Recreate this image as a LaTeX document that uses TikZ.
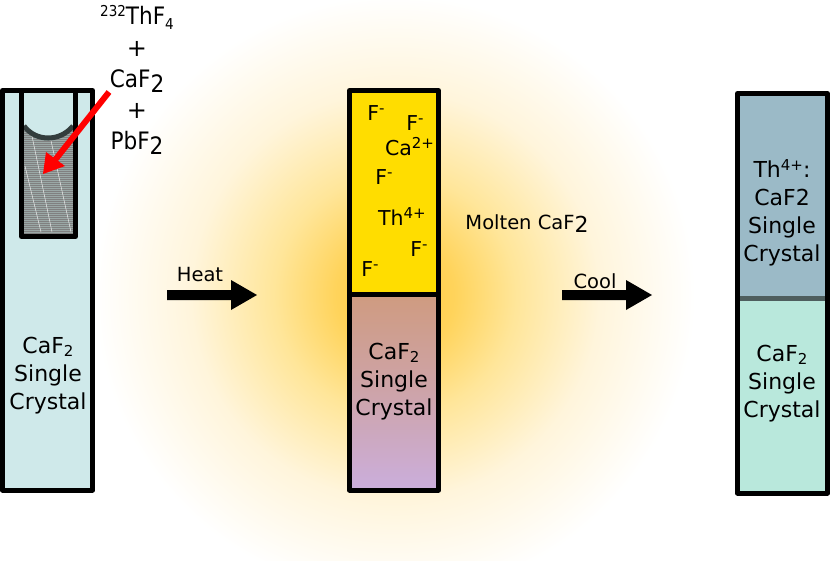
\documentclass[tikz,border=0pt]{standalone}
\usepackage{fontspec}
\setmainfont{DejaVu Sans}
\definecolor{tubeA}{HTML}{CFE9EA}
\definecolor{moltenY}{HTML}{FFDD00}
\definecolor{gradTop}{HTML}{CF9B80}
\definecolor{gradBot}{HTML}{CBAEDC}
\definecolor{dopedC}{HTML}{9BBAC7}
\definecolor{pureC}{HTML}{B9E8DC}
\definecolor{sepC}{HTML}{4E5E5E}
\definecolor{powderC}{HTML}{9AA8A6}
\definecolor{menC}{HTML}{333D3D}
\definecolor{glowA}{rgb}{1,0.78,0.22}
\definecolor{glowB}{rgb}{1,0.83,0.36}
\definecolor{glowC}{rgb}{1,0.90,0.60}
\definecolor{glowD}{rgb}{1,0.96,0.86}
\definecolor{glowE}{rgb}{1,1,1}
\pgfdeclareradialshading{glow}{\pgfpoint{0bp}{0bp}}{
 color(0bp)=(glowA);
 color(5bp)=(glowB);
 color(10bp)=(glowC);
 color(17bp)=(glowD);
 color(25bp)=(glowE);
 color(50bp)=(glowE)}
\tikzset{
 x=1pt,y=-1pt,
 wall/.style={draw=black,line width=5pt,line join=round},
 txt/.style={font=\fontsize{22}{28}\selectfont,align=center,inner sep=0pt},
 small/.style={font=\fontsize{20.5}{24}\selectfont,inner sep=0pt},
 lab/.style={font=\fontsize{19.5}{22}\selectfont,inner sep=0pt},
 tall/.style={font=\fontsize{24}{28}\selectfont,inner sep=0pt},
 bigarrow/.style={fill=black,draw=none},
}
\newcommand{\subtwo}{\raisebox{-3pt}{\fontsize{15}{15}\selectfont 2}}
\newcommand{\supm}{\raisebox{7pt}{\fontsize{15}{15}\selectfont -}}
\newcommand{\supx}[1]{\raisebox{7pt}{\fontsize{15}{15}\selectfont #1}}
\newcommand{\narrow}[1]{\scalebox{0.9}[1]{#1}}
\begin{document}
\begin{tikzpicture}
\useasboundingbox (0,0) rectangle (830,560);
% glow
\path[shading=glow] (395,295) circle[radius=300];
% left tube
\fill[tubeA] (2.5,90.5) rectangle (92.5,490);
% powder
\path[fill=powderC] (24,125) .. controls (36,142) and (60,142) .. (73,125) -- (73,234) -- (24,234) -- cycle;
\begin{scope}
\clip (24,125) .. controls (36,142) and (60,142) .. (73,125) -- (73,234) -- (24,234) -- cycle;
\foreach \yy in {125,127,...,235} \draw[color=black!50,line width=0.7pt] (24,\yy) -- (73,\yy);
\draw[white!85!gray,line width=0.5pt] (32,136) -- (52,232);
\draw[white!85!gray,line width=0.5pt] (50,136) -- (71,232);
\draw[white!85!gray,line width=0.5pt] (25,166) -- (41,232);
\end{scope}
\draw[menC,line width=5pt] (24,126) .. controls (36,142) and (60,142) .. (73,126);
\draw[wall] (21.5,91) -- (21.5,236.5) -- (75.5,236.5) -- (75.5,91);
\draw[wall] (2.5,490) -- (2.5,90.5) -- (92.5,90.5) -- (92.5,490) -- cycle;
% red arrow
\coordinate (rs) at (109,92);
\coordinate (rm) at (55,160);
\coordinate (re) at (43,174);
\draw[red,line width=6pt] (rs) -- (rm);
\fill[red] (re) -- (46,152) -- (65,166) -- cycle;
\node[txt] (leftlab) at (48,376) {CaF\subtwo\\Single\\Crystal};
\node[tall] (th) at (137,17) {\narrow{\raisebox{8pt}{\fontsize{15}{15}\selectfont 232}ThF\raisebox{-5pt}{\fontsize{15}{15}\selectfont 4}}};
\node[tall] (p1) at (137,49) {+};
\node[tall] (ca) at (137,81) {\narrow{CaF\raisebox{-5pt}{2}}};
\node[tall] (p2) at (137,111) {+};
\node[tall] (pb) at (137,143) {\narrow{PbF\raisebox{-5pt}{2}}};
% middle tube
\fill[moltenY] (349.5,90.5) rectangle (438.5,294.5);
\shade[top color=gradTop,bottom color=gradBot,middle color=gradTop!55!gradBot] (349.5,294.5) rectangle (438.5,490);
\draw[wall] (349.5,90.5) rectangle (438.5,490);
\draw[black,line width=5pt] (349.5,294.5) -- (438.5,294.5);
\node[small] (f1) at (376,113) {F\supm};
\node[small] (f2) at (415,123) {F\supm};
\node[small] (ca2) at (409.5,147) {Ca\supx{2+}};
\node[small] (f3) at (384,177) {F\supm};
\node[small] (th4) at (402,217) {Th\supx{4+}};
\node[small] (f4) at (419,249) {F\supm};
\node[small] (f5) at (370,269) {F\supm};
\node[txt] (midlab) at (394,382) {CaF\subtwo\\Single\\Crystal};
\node[font=\fontsize{19.5}{22}\selectfont,inner sep=0pt] (molten) at (527,224) {Molten CaF\raisebox{-3pt}{\fontsize{22}{22}\selectfont 2}};
% right tube
\fill[dopedC] (737.5,93.5) rectangle (827.5,298);
\fill[pureC] (737.5,298) rectangle (827.5,493);
\draw[sepC,line width=5pt] (737.5,298) -- (827.5,298);
\draw[wall] (737.5,493) -- (737.5,93.5) -- (827.5,93.5) -- (827.5,493) -- cycle;
\node[txt] (toplab) at (782,213) {Th\supx{4+}:\\CaF2\\Single\\Crystal};
\node[txt] (botlab) at (782,384) {CaF\subtwo\\Single\\Crystal};
% arrows
\fill[bigarrow] (167,290) -- (231,290) -- (231,280) -- (257,295) -- (231,310) -- (231,300) -- (167,300) -- cycle;
\fill[bigarrow] (562,290) -- (626,290) -- (626,280) -- (652,295) -- (626,310) -- (626,300) -- (562,300) -- cycle;
\node[lab] (heat) at (200,275) {Heat};
\node[lab] (cool) at (595,281) {Cool};
\end{tikzpicture}
\end{document}
